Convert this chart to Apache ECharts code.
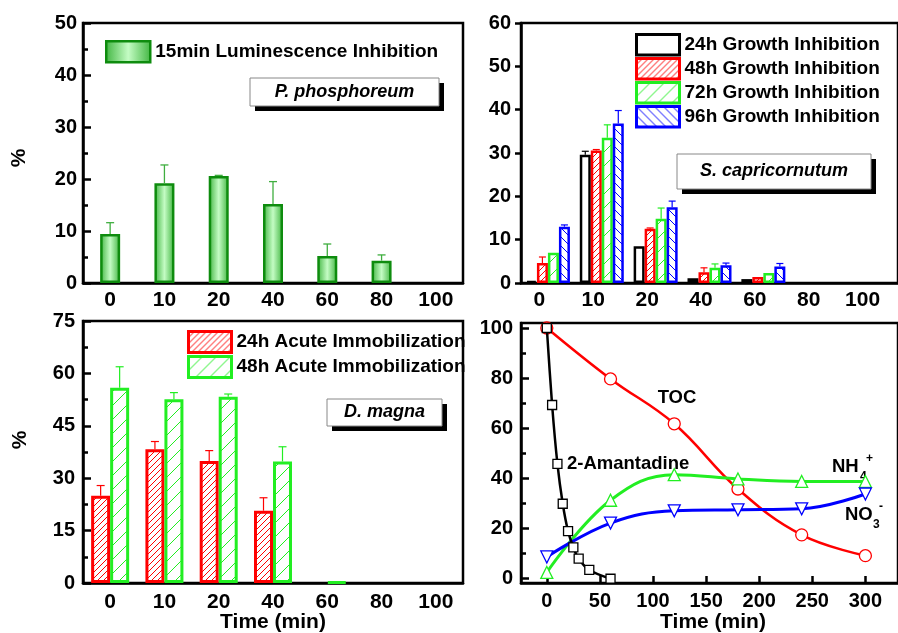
<!DOCTYPE html>
<html><head><meta charset="utf-8">
<script src="https://cdn.jsdelivr.net/npm/echarts@6/dist/echarts.min.js"></script>
<style>html,body{margin:0;padding:0;background:#fff}#c{width:898px;height:633px}</style>
</head><body><div id="c"></div>
<script>
// ---------- DATA ----------
const categories = ['0', '10', '20', '40', '60', '80', '100'];

// P. phosphoreum (15 min luminescence inhibition, %)
const lumValues = [9.4, 19.2, 20.6, 15.2, 5.2, 4.3, null];
const lumErrTop = [11.6, 22.7, 20.7, 19.5, 7.5, 5.4, null];

// S. capricornutum growth inhibition (%)
const g24 = [0.5, 29.6, 8.5, 1.1, 0.9, null, null];
const g24Err = [null, 30.4, null, null, null, null, null];
const g48 = [4.6, 30.6, 12.5, 2.5, 1.4, null, null];
const g48Err = [6.0, 30.8, 12.7, 3.5, null, null, null];
const g72 = [7.0, 33.5, 14.8, 3.5, 2.3, null, null];
const g72Err = [null, 36.5, 17.3, 4.4, null, null, null];
const g96 = [13.0, 36.8, 17.5, 4.1, 3.8, null, null];
const g96Err = [13.4, 39.8, 18.9, 4.6, 4.5, null, null];

// D. magna acute immobilization (%)
const d24 = [25.0, 38.3, 34.9, 20.7, null, null, null];
const d24Err = [27.9, 40.5, 37.9, 24.4, null, null, null];
const d48 = [55.9, 52.6, 53.3, 34.8, 0.3, null, null];
const d48Err = [61.9, 54.5, 54.1, 39.0, null, null, null];

// Degradation kinetics (%), time in min
const amaTime = [0, 5, 10, 15, 20, 25, 30, 40, 60];
const amaValues = [100, 69.3, 45.8, 29.9, 19.0, 12.5, 8.0, 3.5, 0];
const ionTime = [0, 60, 120, 180, 240, 300];
const tocValues = [100, 79.7, 61.8, 35.8, 17.5, 9.2];
const nh4Values = [2.5, 31.3, 41.5, 39.8, 38.8, 38.8];
const no3Values = [8.7, 22.2, 27.1, 27.5, 27.9, 33.8];

const yTicks1 = {min: 0, max: 50, interval: 10};
const yTicks2 = {min: 0, max: 60, interval: 10};
const yTicks3 = {min: 0, max: 75, interval: 15};
// panel 4: axis extents run slightly past the tick range (frame padding)
const yRange4 = [-1.7, 102.0];
const yMajor4 = [0, 20, 40, 60, 80, 100];
const yMinor4 = [10, 30, 50, 70, 90];
const xRange4 = [-24.3, 330.7];
const xMajor4 = [0, 50, 100, 150, 200, 250, 300];

// ---------- STYLE HELPERS ----------
const F = "'Liberation Sans', Arial, sans-serif";
const RED = '#ff0000', GREEN = '#22ee22', BLUE = '#0000ff';

function hatch(color, s, dir, lw) {
  const c = document.createElement('canvas');
  c.width = s; c.height = s;
  const g = c.getContext('2d');
  g.fillStyle = '#fff'; g.fillRect(0, 0, s, s);
  g.strokeStyle = color; g.lineWidth = lw;
  g.beginPath();
  if (dir > 0) {
    g.moveTo(-1, s + 1); g.lineTo(s + 1, -1);
    g.moveTo(-2, 2); g.lineTo(2, -2);
    g.moveTo(s - 2, s + 2); g.lineTo(s + 2, s - 2);
  } else {
    g.moveTo(-1, -1); g.lineTo(s + 1, s + 1);
    g.moveTo(s - 2, -2); g.lineTo(s + 2, 2);
    g.moveTo(-2, s - 2); g.lineTo(2, s + 2);
  }
  g.stroke();
  return {image: c, repeat: 'repeat'};
}

const lumGrad = {type: 'linear', x: 0, y: 0, x2: 1, y2: 0, colorStops: [
  {offset: 0, color: '#3fb43f'}, {offset: 0.5, color: '#c4fcc4'}, {offset: 1, color: '#3fb43f'}]};

function errSeries(xi, vals, tops, offset, color, cap, lw) {
  return {
    type: 'custom', xAxisIndex: xi, yAxisIndex: xi, silent: true, z: 3,
    encode: {x: 0, y: 1},
    data: vals.map((v, i) => [i, v == null ? '-' : v, tops[i] == null ? '-' : tops[i]]),
    renderItem: function (params, api) {
      const c = api.value(0), v = api.value(1), e = api.value(2);
      if (isNaN(v) || isNaN(e) || e <= v) return;
      const p0 = api.coord([c, v]), p1 = api.coord([c, e]);
      const x = p0[0] + offset;
      return {type: 'group', children: [
        {type: 'line', shape: {x1: x, y1: p0[1], x2: x, y2: p1[1]}, style: {stroke: color, lineWidth: lw}},
        {type: 'line', shape: {x1: x - cap, y1: p1[1], x2: x + cap, y2: p1[1]}, style: {stroke: color, lineWidth: lw}}
      ]};
    }
  };
}

const axisLabelY = {color: '#000', fontFamily: F, fontWeight: 'bold', fontSize: 20};
const axisLabelX = {color: '#000', fontFamily: F, fontWeight: 'bold', fontSize: 21};
const blackLine = {color: '#000', width: 2.5};
const tickLine = {color: '#000', width: 2.5};

function catAxis(idx, inside, extraLabel) {
  return {
    type: 'category', gridIndex: idx, data: categories,
    axisLine: {lineStyle: blackLine},
    axisTick: {inside: inside, alignWithLabel: true, length: inside ? 7 : 5, lineStyle: tickLine},
    axisLabel: Object.assign({}, axisLabelX, {margin: 7}, extraLabel || {}),
    splitLine: {show: false}
  };
}
function valAxis(idx, t, inside, minor, extra) {
  return Object.assign({
    type: 'value', gridIndex: idx, min: t.min, max: t.max, interval: t.interval,
    axisLine: {show: true, lineStyle: blackLine},
    axisTick: {show: true, inside: inside, length: inside ? 8 : 6, lineStyle: tickLine},
    minorTick: {show: minor, splitNumber: 2, length: 5, lineStyle: tickLine},
    axisLabel: Object.assign({}, axisLabelY, {margin: 7}),
    splitLine: {show: false}, minorSplitLine: {show: false}
  }, extra || {});
}

function labelBox(x, y, w, h, text) {
  return {type: 'group', children: [
    {type: 'rect', shape: {x: x + 5, y: y + 5, width: w, height: h}, style: {fill: '#000'}},
    {type: 'rect', shape: {x: x, y: y, width: w, height: h}, style: {fill: '#fff', stroke: '#888', lineWidth: 1}},
    {type: 'text', x: x + w / 2, y: y + h / 2, style: {text: text, font: 'italic bold 18px ' + F, fill: '#000', align: 'center', verticalAlign: 'middle'}}
  ]};
}
function txt(x, y, text, size, align, vAlign, rot) {
  return {type: 'text', x: x, y: y, rotation: rot || 0, style: {text: text, font: 'bold ' + size + 'px ' + F, fill: '#000', align: align || 'left', verticalAlign: vAlign || 'middle'}};
}

const legendText = {color: '#000', fontFamily: F, fontWeight: 'bold', fontSize: 19, lineHeight: 20};

const option = {
  animation: false,
  backgroundColor: '#fff',
  grid: [
    {left: 83, top: 23, width: 380, height: 260, show: true, borderColor: '#000', borderWidth: 2.5},
    {left: 521, top: 23, width: 380, height: 260, show: true, borderColor: '#000', borderWidth: 2.5},
    {left: 83, top: 321, width: 380, height: 262, show: true, borderColor: '#000', borderWidth: 2.5},
    {left: 521, top: 323, width: 385, height: 260, show: true, borderColor: '#000', borderWidth: 2.5}
  ],
  xAxis: [
    catAxis(0, true),
    catAxis(1, false, {padding: [0, 17, 0, 0]}),
    Object.assign(catAxis(2, true), {axisLabel: Object.assign({}, axisLabelX, {margin: 9})}),
    {type: 'value', gridIndex: 3, position: 'bottom', min: xRange4[0], max: xRange4[1],
     axisLine: {show: true, onZero: false, lineStyle: blackLine},
     axisTick: {show: true, inside: true, length: 7, lineStyle: tickLine, customValues: xMajor4},
     axisLabel: Object.assign({}, axisLabelY, {margin: 8, customValues: xMajor4}), splitLine: {show: false}}
  ],
  yAxis: [
    valAxis(0, yTicks1, true, true, {axisLabel: Object.assign({}, axisLabelY, {margin: 6})}),
    valAxis(1, yTicks2, false, false, {axisLabel: Object.assign({}, axisLabelY, {margin: 10})}),
    valAxis(2, yTicks3, true, true, {axisLabel: Object.assign({}, axisLabelY, {margin: 8})}),
    {type: 'value', gridIndex: 3, position: 'left', min: yRange4[0], max: yRange4[1],
     axisLine: {show: true, onZero: false, lineStyle: blackLine},
     axisTick: {show: true, inside: true, length: 8, lineStyle: tickLine, customValues: yMajor4},
     axisLabel: Object.assign({}, axisLabelY, {margin: 8, customValues: yMajor4}), splitLine: {show: false}},
    {type: 'value', gridIndex: 3, position: 'left', offset: 0, min: yRange4[0], max: yRange4[1],
     axisLine: {show: false, onZero: false},
     axisTick: {show: true, inside: true, length: 5, lineStyle: tickLine, customValues: yMinor4},
     axisLabel: {show: false}, splitLine: {show: false}}
  ],
  legend: [
    {left: 105, top: 40, padding: 0, itemWidth: 44, itemHeight: 21, icon: 'rect', data: ['15min Luminescence Inhibition'],
     textStyle: legendText, itemStyle: {borderWidth: 2.5}, selectedMode: false},
    {left: 635, top: 33, padding: 0, orient: 'vertical', itemGap: 0.5, itemWidth: 43, itemHeight: 20.5, icon: 'rect',
     data: ['24h Growth Inhibition', '48h Growth Inhibition', '72h Growth Inhibition', '96h Growth Inhibition'],
     textStyle: legendText, itemStyle: {borderWidth: 3}, selectedMode: false},
    {left: 187, top: 330, padding: 0, orient: 'vertical', itemGap: 1, itemWidth: 43, itemHeight: 21, icon: 'rect',
     data: ['24h Acute Immobilization', '48h Acute Immobilization'],
     textStyle: legendText, itemStyle: {borderWidth: 3}, selectedMode: false}
  ],
  series: [
    // panel 1
    {type: 'bar', name: '15min Luminescence Inhibition', xAxisIndex: 0, yAxisIndex: 0, data: lumValues, barWidth: 20,
     itemStyle: {color: lumGrad, borderColor: '#0e8c0e', borderWidth: 2.5}},
    errSeries(0, lumValues, lumErrTop, 0, '#3fae3f', 4, 1.3),
    // panel 2
    {type: 'bar', name: '24h Growth Inhibition', xAxisIndex: 1, yAxisIndex: 1, data: g24, barWidth: 11, barGap: '0%',
     itemStyle: {color: '#fff', borderColor: '#000', borderWidth: 2.5}},
    {type: 'bar', name: '48h Growth Inhibition', xAxisIndex: 1, yAxisIndex: 1, data: g48, barWidth: 11, barGap: '0%',
     itemStyle: {color: hatch(RED, 6, 1, 1), borderColor: RED, borderWidth: 2.5}},
    {type: 'bar', name: '72h Growth Inhibition', xAxisIndex: 1, yAxisIndex: 1, data: g72, barWidth: 11, barGap: '0%',
     itemStyle: {color: hatch(GREEN, 14, 1, 1), borderColor: GREEN, borderWidth: 2.5}},
    {type: 'bar', name: '96h Growth Inhibition', xAxisIndex: 1, yAxisIndex: 1, data: g96, barWidth: 11, barGap: '0%',
     itemStyle: {color: hatch(BLUE, 9, -1, 1), borderColor: BLUE, borderWidth: 2.5}},
    errSeries(1, g24, g24Err, -16.5, '#000', 3.5, 1.2),
    errSeries(1, g48, g48Err, -5.5, RED, 3.5, 1.2),
    errSeries(1, g72, g72Err, 5.5, GREEN, 3.5, 1.2),
    errSeries(1, g96, g96Err, 16.5, BLUE, 3.5, 1.2),
    // panel 3
    {type: 'bar', name: '24h Acute Immobilization', xAxisIndex: 2, yAxisIndex: 2, data: d24, barWidth: 19, barGap: '0%',
     itemStyle: {color: hatch(RED, 6, 1, 1), borderColor: RED, borderWidth: 3}},
    {type: 'bar', name: '48h Acute Immobilization', xAxisIndex: 2, yAxisIndex: 2, data: d48, barWidth: 19, barGap: '0%',
     itemStyle: {color: hatch(GREEN, 14, 1, 1), borderColor: GREEN, borderWidth: 3}},
    errSeries(2, d24, d24Err, -9.5, RED, 4, 1.2),
    errSeries(2, d48, d48Err, 9.5, GREEN, 4, 1.2),
    // panel 4
    {type: 'line', name: 'TOC', xAxisIndex: 3, yAxisIndex: 3, data: ionTime.map((t, i) => [t, tocValues[i]]),
     smooth: 0.4, clip: false, symbol: 'circle', symbolSize: 12,
     lineStyle: {color: RED, width: 2.5}, itemStyle: {color: '#fff', borderColor: RED, borderWidth: 1.3}},
    {type: 'line', name: 'NH4+', xAxisIndex: 3, yAxisIndex: 3, data: ionTime.map((t, i) => [t, nh4Values[i]]),
     smooth: 0.4, clip: false, symbol: 'triangle', symbolSize: 12,
     lineStyle: {color: GREEN, width: 3}, itemStyle: {color: '#fff', borderColor: GREEN, borderWidth: 1.3}},
    {type: 'line', name: 'NO3-', xAxisIndex: 3, yAxisIndex: 3, data: ionTime.map((t, i) => [t, no3Values[i]]),
     smooth: 0.4, clip: false, symbol: 'triangle', symbolRotate: 180, symbolSize: 12,
     lineStyle: {color: BLUE, width: 3}, itemStyle: {color: '#fff', borderColor: BLUE, borderWidth: 1.3}},
    {type: 'line', name: '2-Amantadine', xAxisIndex: 3, yAxisIndex: 3, data: amaTime.map((t, i) => [t, amaValues[i]]),
     smooth: 0.3, clip: false, symbol: 'rect', symbolSize: 9, z: 5,
     lineStyle: {color: '#000', width: 2.5}, itemStyle: {color: '#fff', borderColor: '#000', borderWidth: 1.3}}
  ],
  graphic: [
    labelBox(250, 78, 189, 28, 'P. phosphoreum'),
    labelBox(677, 154, 194, 35, 'S. capricornutum'),
    labelBox(327, 399, 115, 27, 'D. magna'),
    txt(19, 158, '%', 21, 'center', 'middle', Math.PI / 2),
    txt(20, 440, '%', 21, 'center', 'middle', Math.PI / 2),
    txt(273, 612, 'Time (min)', 21, 'center', 'top'),
    txt(713, 612, 'Time (min)', 21, 'center', 'top'),
    txt(677, 398, 'TOC', 18.5, 'center', 'middle'),
    txt(567, 464, '2-Amantadine', 18.5, 'left', 'middle'),
    txt(832, 467, 'NH', 18.5, 'left', 'middle'),
    txt(860, 477, '4', 12, 'left', 'middle'),
    txt(866, 459, '+', 12, 'left', 'middle'),
    txt(845, 515, 'NO', 18.5, 'left', 'middle'),
    txt(873, 525, '3', 12, 'left', 'middle'),
    txt(879, 507, '-', 12, 'left', 'middle')
  ]
};

const chart = echarts.init(document.getElementById('c'), null, {renderer: 'canvas'});
chart.setOption(option);
</script>
</body></html>
